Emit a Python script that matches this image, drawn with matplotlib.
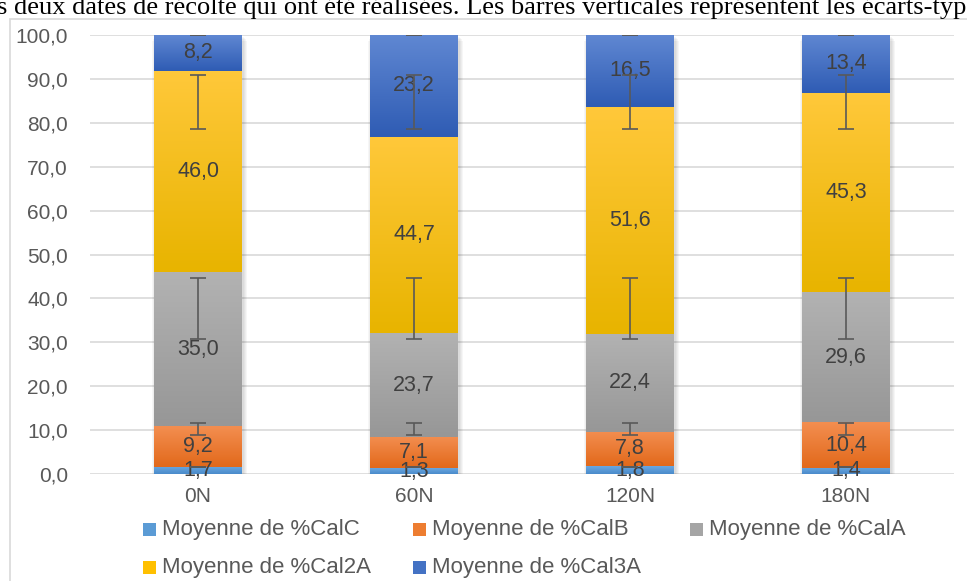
import matplotlib
matplotlib.use('Agg')
import matplotlib.pyplot as plt
import numpy as np
from matplotlib.patches import Rectangle
from matplotlib.colors import LinearSegmentedColormap

categories = ['0N', '60N', '120N', '180N']
series_names = ['Moyenne de %CalC', 'Moyenne de %CalB', 'Moyenne de %CalA',
                'Moyenne de %Cal2A', 'Moyenne de %Cal3A']
cal_c = [1.7, 1.3, 1.8, 1.4]
cal_b = [9.2, 7.1, 7.8, 10.4]
cal_a = [35.0, 23.7, 22.4, 29.6]
cal_2a = [46.0, 44.7, 51.6, 45.3]
cal_3a = [8.2, 23.2, 16.5, 13.4]
# error bars (same on every bar in the source chart)
err_low = [1.55, 8.9, 30.8, 78.5, 100.0]
err_high = [1.65, 11.6, 44.7, 91.0, 100.1]

# (top colour, bottom colour) of the Excel-like gradients
grad_colors = [('#6AA7E0', '#4A8BCB'),
               ('#F38E50', '#E2691B'),
               ('#B2B2B2', '#979797'),
               ('#FFC83A', '#E8B400'),
               ('#5F87D2', '#2F5CB4')]
legend_colors = ['#5B9BD5', '#ED7D31', '#A5A5A5', '#FFC000', '#4472C4']

font = ['Liberation Sans', 'DejaVu Sans']
txt_col = '#595959'
lab_col = '#404040'

fig = plt.figure(figsize=(9.67, 5.81), dpi=100)
W, H = 967, 581
ax = fig.add_axes([90 / W, 1 - 474 / H, 864 / W, 439 / H])

data = [cal_c, cal_b, cal_a, cal_2a, cal_3a]
x = np.arange(len(categories))
width = 0.407
bottoms = np.zeros(len(categories))
totals = np.sum(data, axis=0)

# soft shadow behind the bars
for k in range(4):
    dx = 0.004 + k * 0.004
    ax.bar(x + 0.006, np.minimum(totals, 100) + 0.4, width=width + 2 * dx,
           bottom=-0.8 - k * 0.3, color='k', alpha=0.035, zorder=1, linewidth=0)

for i, vals in enumerate(data):
    cmap = LinearSegmentedColormap.from_list('g%d' % i, [grad_colors[i][1], grad_colors[i][0]])
    bars = ax.bar(x, vals, width=width, bottom=bottoms, color=legend_colors[i],
                  linewidth=0, zorder=2)
    for b in bars:
        x0, y0 = b.get_x(), b.get_y()
        w, h = b.get_width(), b.get_height()
        img = ax.imshow(np.linspace(0, 1, 64).reshape(-1, 1), cmap=cmap, origin='lower',
                        extent=(x0, x0 + w, y0, min(y0 + h, 100)), aspect='auto',
                        interpolation='bilinear', zorder=2.5)
        img.set_clip_path(b)
    for xi, v, bt in zip(x, vals, bottoms):
        ax.text(xi, bt + v / 2, ('%.1f' % v).replace('.', ','), ha='center', va='center',
                fontsize=15.5, color=lab_col, family=font, zorder=4)
    bottoms = bottoms + np.array(vals)

for lo, hi in zip(err_low, err_high):
    mid = (lo + hi) / 2
    ax.errorbar(x, [mid] * len(x), yerr=(hi - lo) / 2, fmt='none', ecolor=txt_col,
                elinewidth=1.2, capsize=5.5, capthick=1.2, zorder=5)

ax.set_xlim(-0.5, len(categories) - 0.5)
ax.set_ylim(0, 100)
ax.set_yticks(np.arange(0, 101, 10))
ax.set_yticklabels([('%.1f' % t).replace('.', ',') for t in np.arange(0, 101, 10)])
ax.set_xticks(x)
ax.set_xticklabels(categories)
ax.yaxis.grid(True, color='#D9D9D9', linewidth=1.2, zorder=0)
ax.set_axisbelow(True)
for s in ax.spines.values():
    s.set_visible(False)
ax.tick_params(axis='both', length=0, labelsize=15, labelcolor=txt_col)
ax.tick_params(axis='y', pad=16)
ax.tick_params(axis='x', pad=9)
for lab in ax.get_xticklabels() + ax.get_yticklabels():
    lab.set_family(font)

# legend, laid out like Excel (row by row)
legend_x = [143, 413, 690]
legend_y = [529, 567]
for i, name in enumerate(series_names):
    lx = legend_x[i % 3]
    ly = legend_y[i // 3]
    fig.patches.append(Rectangle((lx / W, 1 - (ly + 6.5) / H), 13 / W, 13 / H,
                                 transform=fig.transFigure, facecolor=legend_colors[i],
                                 edgecolor='none'))
    fig.text((lx + 19) / W, 1 - ly / H, name, ha='left', va='center', fontsize=16,
             color=txt_col, family=font)

# chart frame and the caption line above it, cut by the crop as in the source
fig.patches.append(Rectangle((10 / W, -0.1), 1.2, 1 - 19 / H + 0.1, transform=fig.transFigure,
                             facecolor='none', edgecolor='#D9D9D9', linewidth=1.2))
fig.text(-3 / W, 1 - 14 / H, "s deux dates de récolte qui ont été réalisées. Les barres verticales "
         "représentent les écarts-types", ha='left', va='baseline', fontsize=19,
         family=['Liberation Serif', 'DejaVu Serif'], color='black')

fig.savefig('out.png', dpi=100)
